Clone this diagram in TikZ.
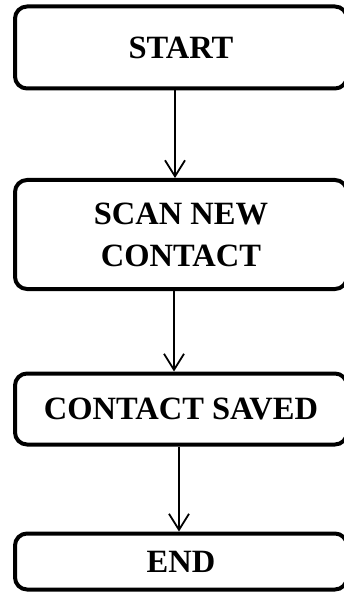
\documentclass[tikz,border=0pt]{standalone}
\usepackage{fontspec}
\setmainfont{Liberation Serif}
\usepackage{tikz}
\usetikzlibrary{
  arrows.meta,
  positioning
}

\begin{document}
\begin{tikzpicture}[x=1pt, y=1pt,
    every node/.style={font=\fontsize{32.5}{42}\selectfont\bfseries},
    flowbox/.style={draw, line width=4pt, rounded corners=12pt, minimum width=332pt, align=center, inner sep=0pt},
    flowarrow/.style={line width=1.8pt, -{Straight Barb[length=16pt, width=20pt, line width=1.8pt]}}]
                    \useasboundingbox (0,0) rectangle (344,-601);
                    
                    \node[flowbox, minimum height=82pt] (start) at (181,-47.5) {START};
                    \node[flowbox, minimum height=109pt] (scan) at (181,-234.5) {SCAN NEW\\CONTACT};
                    \node[flowbox, minimum height=71pt] (saved) at (181,-409) {CONTACT SAVED};
                    \node[flowbox, minimum height=56pt] (stop) at (181,-561.5) {END};
                    
                    \draw[flowarrow] ([xshift=-6pt]start.south) -- ([xshift=-6pt]scan.north);
                    \draw[flowarrow] ([xshift=-7pt]scan.south) -- ([xshift=-7pt]saved.north);
                    \draw[flowarrow] ([xshift=-2pt]saved.south) -- ([xshift=-2pt]stop.north);
                \end{tikzpicture}
\end{document}
